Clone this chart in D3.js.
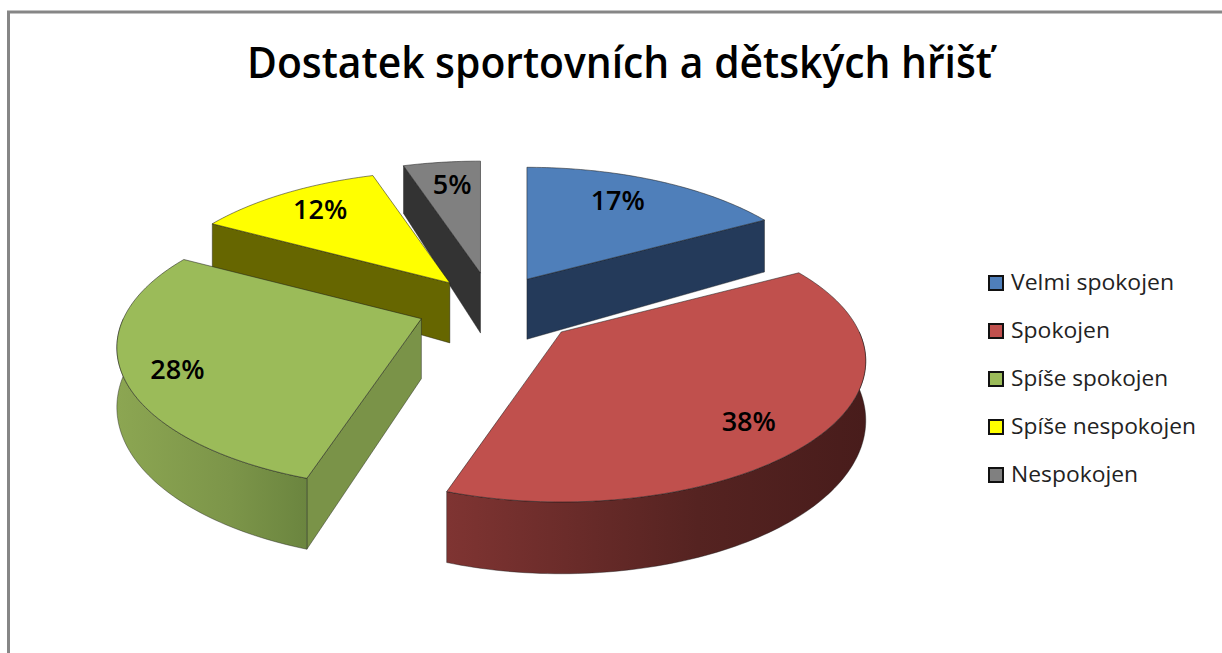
<!DOCTYPE html>
<html><head><meta charset="utf-8">
<script src="https://cdn.jsdelivr.net/npm/d3@7/dist/d3.min.js"></script>
<style>html,body{margin:0;padding:0;background:#fff;overflow:hidden}svg{display:block}text{font-family:"Open Sans",sans-serif}</style>
</head><body><div id="c"></div>
<script>
const titleText = "Dostatek sportovních a dětských hřišť";
const categories = ["Velmi spokojen","Spokojen","Spíše spokojen","Spíše nespokojen","Nespokojen"];
const values = [17,38,28,12,5];
const topColors = ["#4f7fba","#c0504d","#9bbb59","#ffff00","#808080"];
const faceColors = ["#243a5a","#7a3230","#7a9348","#666600","#333333"];
const rimLeft = ["#243a5a","#7f3432","#8ca652","#666600","#333333"];
const rimMid = ["#243a5a","#552321","#7c9549","#666600","#333333"];
const rimRight = ["#243a5a","#481c1b","#6b853f","#666600","#333333"];
const explode = [0.24,0.29,0.25,0.23,0.26];
const labelRadius = [0.72,0.78,0.8,0.72,0.75];
const labelDx = [-6,-12,-8,-7,2];
const labelDy = [-6,14,8,-7,-3];
const drawOrder = [4,3,0,2,1];
const legendWidths = [163,99,157,185,127];

const W=1222,H=653, cx=492, cy=306, rx=298, ry=135, persp=0.206, depth=57, apexDepth=60;
const svg=d3.select("#c").append("svg").attr("width",W).attr("height",H);
const defs=svg.append("defs");
svg.append("path").attr("d",`M8.5,${H} V12 H${W}`).attr("fill","none").attr("stroke","#868686").attr("stroke-width",3);

const f=v=>1/(1-persp*v);
const px=d3.scaleLinear().domain([0,1]).range([0,rx]);
const py=d3.scaleLinear().domain([0,1]).range([0,ry]);
const local=(a,r)=>{const u=r*Math.sin(a),v=-r*Math.cos(a);return {x:px(u)*f(v),y:py(v)*f(v),d:depth*f(v)};};

const arcs=d3.pie().sort(null)(values);
const line=d3.line();
const sample=(a0,a1)=>{const n=Math.max(2,Math.ceil((a1-a0)/0.02));return d3.range(n+1).map(i=>a0+(a1-a0)*i/n);};

drawOrder.forEach(i=>{
  const s=arcs[i], mid=(s.startAngle+s.endAngle)/2;
  const o=local(mid,explode[i]);
  const ax=cx+o.x, ay=cy+o.y;
  const g=svg.append("g");
  const P=(a)=>{const p=local(a,1);return [ax+p.x,ay+p.y];};
  const B=(a)=>{const p=local(a,1);return [ax+p.x,ay+p.y+p.d];};
  const edge="#1a1a1a";
  [[s.startAngle,Math.sin(s.startAngle)<-1e-6],[s.endAngle,Math.sin(s.endAngle)>1e-6]].forEach(([a,vis])=>{
    if(!vis) return;
    g.append("path").attr("d",line([[ax,ay],P(a),B(a),[ax,ay+apexDepth]])+"Z")
      .attr("fill",faceColors[i]).attr("stroke",edge).attr("stroke-width",.6).attr("stroke-opacity",.7);
  });
  const r0=Math.max(s.startAngle,Math.PI/2), r1=Math.min(s.endAngle,Math.PI*3/2);
  if(r1>r0){
    const as=sample(r0,r1);
    const tops=as.map(P), bots=as.map(B);
    const xs=tops.concat(bots).map(p=>p[0]);
    const id="rim"+i;
    const gr=defs.append("linearGradient").attr("id",id).attr("gradientUnits","userSpaceOnUse")
      .attr("x1",d3.min(xs)).attr("x2",d3.max(xs)).attr("y1",0).attr("y2",0);
    gr.append("stop").attr("offset",0).attr("stop-color",rimLeft[i]);
    gr.append("stop").attr("offset",.6).attr("stop-color",rimMid[i]);
    gr.append("stop").attr("offset",1).attr("stop-color",rimRight[i]);
    g.append("path").attr("d",line(tops.concat(bots.reverse()))+"Z")
      .attr("fill",`url(#${id})`).attr("stroke",edge).attr("stroke-width",.6).attr("stroke-opacity",.7);
  }
  g.append("path").attr("d",line([[ax,ay]].concat(sample(s.startAngle,s.endAngle).map(P)))+"Z")
    .attr("fill",topColors[i]).attr("stroke",edge).attr("stroke-width",.7).attr("stroke-opacity",.75);
  const l=local(mid,labelRadius[i]);
  g.append("text").attr("x",ax+l.x+labelDx[i]).attr("y",ay+l.y+labelDy[i]).attr("text-anchor","middle").attr("dominant-baseline","central")
    .attr("font-size",27).attr("font-weight",600).attr("fill","#000")
    .text(d3.format(".0%")(values[i]/d3.sum(values)));
});

svg.append("text").attr("x",619.5).attr("y",78).attr("text-anchor","middle").attr("font-size",44).attr("font-weight",600).attr("fill","#000")
  .attr("textLength",745).attr("lengthAdjust","spacingAndGlyphs").text(titleText);

const ly=d3.scalePoint().domain(categories).range([283,475]);
const lg=svg.selectAll("g.leg").data(categories).enter().append("g").attr("class","leg")
  .attr("transform",d=>`translate(0,${ly(d)})`);
lg.append("rect").attr("x",989).attr("y",-7).attr("width",14).attr("height",14)
  .attr("fill",(d,i)=>topColors[i]).attr("stroke","#111").attr("stroke-width",2);
lg.append("text").attr("x",1011).attr("y",-1).attr("dominant-baseline","central").attr("font-size",21).attr("fill","#222")
  .attr("textLength",(d,i)=>legendWidths[i]).attr("lengthAdjust","spacingAndGlyphs").text(d=>d);
</script></body></html>
